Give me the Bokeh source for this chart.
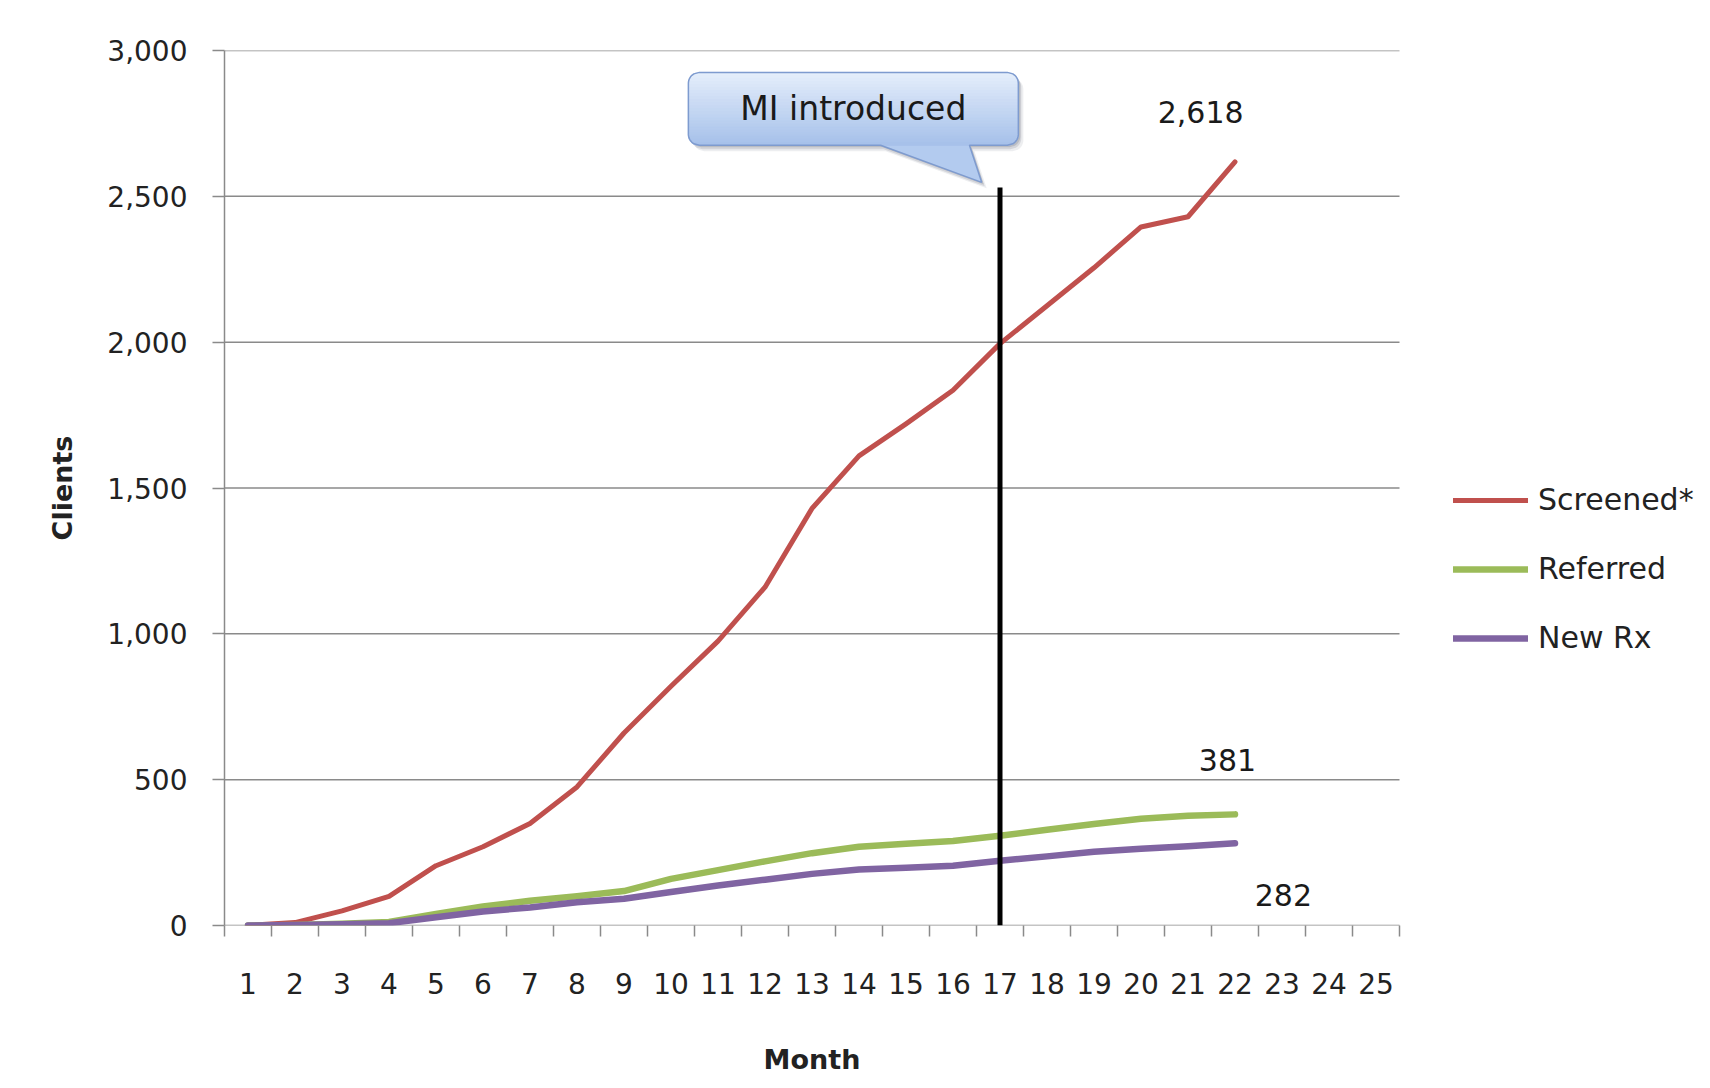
import numpy as np
from bokeh.plotting import figure
from bokeh.models import (Range1d, FixedTicker, NumeralTickFormatter, Legend,
                          LegendItem, Label, Title)
from bokeh.embed import file_html
from bokeh.resources import INLINE

# ---------------- data ----------------
months = [str(i) for i in range(1, 26)]          # x tick labels
month_idx = list(range(1, 23))                   # months with data
screened = [0, 10, 50, 100, 205, 270, 350, 475, 660, 820, 975, 1160,
            1430, 1610, 1720, 1835, 1995, 2125, 2255, 2395, 2430, 2618]
referred = [0, 2, 6, 12, 40, 65, 85, 100, 118, 160, 190, 220,
            248, 270, 280, 290, 308, 328, 348, 366, 376, 381]
new_rx = [0, 2, 4, 8, 28, 48, 62, 80, 92, 115, 137, 157,
          177, 192, 198, 205, 222, 237, 253, 263, 272, 282]
y_ticks = [0, 500, 1000, 1500, 2000, 2500, 3000]
series_names = ["Screened*", "Referred", "New Rx"]
mi_month = 17
mi_top = 2530
mi_text = "MI introduced"

# ---------------- style ----------------
FONT = "DejaVu Sans"
TXT = "#222222"
GRID = "#8a8a8a"
COLORS = ["#c0504d", "#9bbb59", "#8064a2"]
WIDTHS = [5, 6.5, 6.5]

W, H = 1710, 1088
BL, BR, BT, BB = 224, 0, 50, 163
FW, FH = W - BL - BR, H - BT - BB
PX_PER_MONTH = 47.0
X0 = 0.5
XAX_END = len(months) + 0.5
X1 = X0 + FW / PX_PER_MONTH          # frame extends under the legend area
Y0, Y1 = 0, 3000

p = figure(width=W, height=H, x_range=Range1d(X0, X1), y_range=Range1d(Y0, Y1),
           output_backend="svg", toolbar_location=None,
           min_border_left=BL, min_border_right=BR, min_border_top=BT,
           min_border_bottom=BB)
p.outline_line_color = None
p.background_fill_color = "white"
p.border_fill_color = "white"

# x axis (category style: ticks between months)
xa = p.xaxis[0]
xa.ticker = FixedTicker(ticks=list(range(1, len(months) + 1)),
                        minor_ticks=[i + 0.5 for i in range(0, len(months) + 1)])
xa.major_label_overrides = {i + 1: m for i, m in enumerate(months)}
xa.major_tick_out = 0
xa.major_tick_in = 0
xa.minor_tick_out = 11
xa.minor_tick_in = 0
xa.minor_tick_line_color = GRID
xa.minor_tick_line_width = 1.5
xa.axis_line_color = None
xa.major_label_text_font = FONT
xa.major_label_text_font_size = "28px"
xa.major_label_text_color = TXT
xa.major_label_standoff = 36
# blank axis label only reserves space above the "Month" title
xa.axis_label = " "
xa.axis_label_text_font_size = "10px"
xa.axis_label_standoff = 17

# x-axis title, centred under the month axis
month_title = Title(text="Month", align="left",
                    offset=(XAX_END - X0) * PX_PER_MONTH / 2 - 48.4,
                    text_font=FONT, text_font_size="27px",
                    text_font_style="bold", text_color=TXT, standoff=28)
p.add_layout(month_title, "below")

ya = p.yaxis[0]
ya.ticker = FixedTicker(ticks=y_ticks)
ya.formatter = NumeralTickFormatter(format="0,0")
ya.major_tick_out = 12
ya.major_tick_in = 0
ya.minor_tick_out = 0
ya.minor_tick_in = 0
ya.major_tick_line_color = GRID
ya.major_tick_line_width = 1.5
ya.axis_line_color = GRID
ya.axis_line_width = 1.5
ya.major_label_text_font = FONT
ya.major_label_text_font_size = "28px"
ya.major_label_text_color = TXT
ya.major_label_standoff = 25
ya.axis_label = "Clients"
ya.axis_label_text_font = FONT
ya.axis_label_text_font_size = "27px"
ya.axis_label_text_font_style = "bold"
ya.axis_label_text_color = TXT
ya.axis_label_standoff = 26

p.xgrid.grid_line_color = None
p.ygrid.grid_line_color = None

# horizontal gridlines, only across the month axis
p.segment(x0=[X0] * len(y_ticks), y0=y_ticks, x1=[XAX_END] * len(y_ticks),
          y1=y_ticks, line_color=GRID, line_width=1.5, level="underlay")

# ---------------- series ----------------
renderers = []
for vals, col, lw in zip([screened, referred, new_rx], COLORS, WIDTHS):
    r = p.line(month_idx, vals, line_color=col, line_width=lw,
               line_join="round", line_cap="round")
    renderers.append(r)

# vertical "MI introduced" line
p.segment(x0=[mi_month], y0=[0], x1=[mi_month], y1=[mi_top],
          line_color="black", line_width=5)

# ---------------- callout ----------------
XPU = PX_PER_MONTH
YPU = FH / (Y1 - Y0)


def to_px(x, y):
    return (x - X0) * XPU, (Y1 - y) * YPU


def to_data(pts):
    xs = [px / XPU + X0 for px, py in pts]
    ys = [Y1 - py / YPU for px, py in pts]
    return xs, ys


box_l, box_r, box_top, box_bot = 10.37, 17.39, 2925, 2675
tail_x0, tail_x1 = 14.46, 16.35
tip_x, tip_y = 16.61, 2548
L, T = to_px(box_l, box_top)
R, B = to_px(box_r, box_bot)
TX0, _ = to_px(tail_x0, 0)
TX1, _ = to_px(tail_x1, 0)
TPX, TPY = to_px(tip_x, tip_y)
rad = 11.0


def xl(y):
    if y < T + rad:
        d = T + rad - y
    elif y > B - rad:
        d = y - (B - rad)
    else:
        return L
    return L + rad - np.sqrt(max(rad * rad - d * d, 0.0))


def xr(y):
    return R - (xl(y) - L)


def shape(dx=0.0, dy=0.0):
    pts = [(xr(y), y) for y in np.linspace(T, B, 50)]
    pts += [(TX1, B), (TPX, TPY), (TX0, B)]
    pts += [(xl(y), y) for y in np.linspace(B, T, 50)]
    return [(a + dx, b + dy) for a, b in pts]


# shadow
for (dx, dy, a) in [(5, 6, 0.10), (3, 4, 0.16), (2, 2, 0.2)]:
    sx, sy = to_data(shape(dx, dy))
    p.patch(sx, sy, fill_color="#505a6a", fill_alpha=a, line_color=None)

fx, fy = to_data(shape())
p.patch(fx, fy, fill_color="#b3cbef", line_color=None)

c_top = np.array([0xe6, 0xef, 0xfc])
c_bot = np.array([0xa6, 0xc1, 0xea])
nb = 24
edges = np.linspace(T, B, nb + 1)
band_xs, band_ys, band_cols = [], [], []
for i in range(nb):
    ys_ = np.linspace(edges[i], edges[i + 1], 5)
    pts = [(xl(y), y) for y in ys_] + [(xr(y), y) for y in ys_[::-1]]
    bx, by = to_data(pts)
    t = (i + 0.5) / nb
    c = (c_top * (1 - t) + c_bot * t).astype(int)
    band_xs.append(bx)
    band_ys.append(by)
    band_cols.append("#%02x%02x%02x" % tuple(c))
p.patches(band_xs, band_ys, fill_color=band_cols, line_color=band_cols,
          line_width=1)
p.patch(fx, fy, fill_alpha=0, line_color="#7e9bcf", line_width=1.5)

p.add_layout(Label(x=(box_l + box_r) / 2, y=(box_top + box_bot) / 2,
                   text=mi_text, text_align="center", text_baseline="middle",
                   text_font=FONT, text_font_size="33px", text_color="#1a1a1a"))

# ---------------- end value labels ----------------
label_offsets = [(-0.73, 170), (-0.16, 185), (1.03, -176)]
for vals, (dx, dy) in zip([screened, referred, new_rx], label_offsets):
    p.add_layout(Label(x=month_idx[-1] + dx, y=vals[-1] + dy,
                       text=f"{vals[-1]:,}", text_align="center",
                       text_baseline="middle", text_font=FONT,
                       text_font_size="30px", text_color="#1a1a1a"))

# ---------------- legend ----------------
legend = Legend(items=[LegendItem(label=n, renderers=[r])
                       for n, r in zip(series_names, renderers)],
                location=(1229, 270))
legend.label_text_font = FONT
legend.label_text_font_size = "30px"
legend.label_text_color = TXT
legend.glyph_width = 75
legend.glyph_height = 30
legend.label_height = 30
legend.label_standoff = 10
legend.spacing = 34
legend.padding = 0
legend.margin = 0
legend.border_line_color = None
legend.background_fill_alpha = 0
p.add_layout(legend)

open("out.html", "w").write(file_html(p, INLINE))
